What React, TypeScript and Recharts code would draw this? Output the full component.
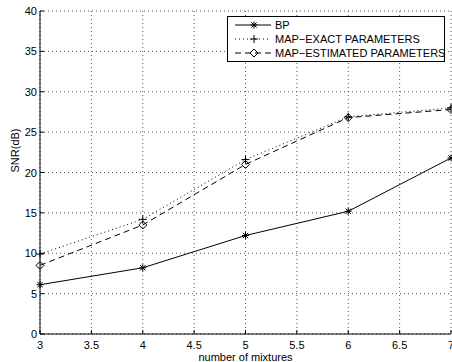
import { LineChart, Line, XAxis, YAxis, CartesianGrid, Legend } from 'recharts';

const mixtures = [3, 4, 5, 6, 7];
const bp = [6.1, 8.2, 12.2, 15.2, 21.8];
const mapExact = [9.9, 14.2, 21.6, 26.9, 28.0];
const mapEstimated = [8.5, 13.5, 21.0, 26.8, 27.8];
const xTicks = [3, 3.5, 4, 4.5, 5, 5.5, 6, 6.5, 7];
const yTicks = [0, 5, 10, 15, 20, 25, 30, 35, 40];

const data = mixtures.map((m, i) => ({
  m,
  bp: bp[i],
  exact: mapExact[i],
  est: mapEstimated[i],
}));

const FONT = '"Liberation Sans", Arial, Helvetica, sans-serif';
const TOP = 11;
const BOTTOM = 334;
const LEFT = 40;
const RIGHT = 451;
const TICK = 4;

const Asterisk = ({ cx, cy, r = 3.5 }: any) => (
  <g stroke="#000" strokeWidth={1}>
    <line x1={cx - r} y1={cy} x2={cx + r} y2={cy} />
    <line x1={cx} y1={cy - r} x2={cx} y2={cy + r} />
    <line x1={cx - r * 0.75} y1={cy - r * 0.75} x2={cx + r * 0.75} y2={cy + r * 0.75} />
    <line x1={cx - r * 0.75} y1={cy + r * 0.75} x2={cx + r * 0.75} y2={cy - r * 0.75} />
  </g>
);

const Plus = ({ cx, cy, r = 4 }: any) => (
  <g stroke="#000" strokeWidth={1}>
    <line x1={cx - r} y1={cy} x2={cx + r} y2={cy} />
    <line x1={cx} y1={cy - r} x2={cx} y2={cy + r} />
  </g>
);

const Diamond = ({ cx, cy, r = 4 }: any) => (
  <polygon
    points={`${cx},${cy - r} ${cx + r},${cy} ${cx},${cy + r} ${cx - r},${cy}`}
    fill="none"
    stroke="#000"
    strokeWidth={1}
  />
);

const BottomTick = ({ x, payload }: any) => (
  <g>
    <line x1={x} x2={x} y1={BOTTOM} y2={BOTTOM - TICK} stroke="#000" />
    <text x={x} y={349} textAnchor="middle" fontSize={11} fontFamily={FONT} fill="#000">
      {payload.value}
    </text>
  </g>
);

const TopTick = ({ x }: any) => (
  <line x1={x} x2={x} y1={TOP} y2={TOP + TICK} stroke="#000" />
);

const LeftTick = ({ y, payload }: any) => (
  <g>
    <line x1={LEFT} x2={LEFT + TICK} y1={y} y2={y} stroke="#000" />
    <text x={37} y={y + 4} textAnchor="end" fontSize={11} fontFamily={FONT} fill="#000">
      {payload.value}
    </text>
  </g>
);

const RightTick = ({ y }: any) => (
  <line x1={RIGHT - TICK} x2={RIGHT} y1={y} y2={y} stroke="#000" />
);

const legendItems = [
  { name: 'BP', dash: undefined, Marker: Asterisk },
  { name: 'MAP\u2212EXACT PARAMETERS', dash: '1 3', Marker: Plus },
  { name: 'MAP\u2212ESTIMATED PARAMETERS', dash: '6 4', Marker: Diamond },
];

const LegendBox = () => (
  <div
    style={{
      width: 216,
      height: 43,
      border: '1px solid #000',
      background: '#fff',
      fontFamily: FONT,
      fontSize: 11,
      color: '#000',
      paddingTop: 1,
      boxSizing: 'content-box',
      whiteSpace: 'nowrap',
    }}
  >
    {legendItems.map((it) => (
      <div key={it.name} style={{ display: 'flex', alignItems: 'center', height: 14 }}>
        <svg width={47} height={14} style={{ display: 'block', flexShrink: 0 }}>
          <line x1={7} x2={43} y1={7} y2={7} stroke="#000" strokeDasharray={it.dash} />
          <it.Marker cx={26} cy={7} />
        </svg>
        <span style={{ lineHeight: '14px' }}>{it.name}</span>
      </div>
    ))}
  </div>
);

export default function App() {
  return (
    <div style={{ position: 'absolute', left: 0, top: 0, background: '#fff' }}>
      <LineChart width={452} height={362} data={data} margin={{ top: TOP, right: 1, left: 0, bottom: 0 }}>
        <CartesianGrid
          stroke="#555"
          strokeDasharray="1 3"
          horizontalValues={yTicks}
          verticalValues={xTicks}
        />
        <XAxis
          dataKey="m"
          type="number"
          domain={[3, 7]}
          ticks={xTicks}
          interval={0}
          height={28}
          axisLine={{ stroke: '#000' }}
          tickLine={false}
          tick={<BottomTick />}
          label={{ value: 'number of mixtures', position: 'insideBottom', offset: 1, fontSize: 11, fontFamily: FONT, fill: '#000' }}
        />
        <XAxis
          xAxisId="top"
          orientation="top"
          dataKey="m"
          type="number"
          domain={[3, 7]}
          ticks={xTicks}
          interval={0}
          height={0}
          axisLine={{ stroke: '#000' }}
          tickLine={false}
          tick={<TopTick />}
        />
        <YAxis
          type="number"
          domain={[0, 40]}
          ticks={yTicks}
          interval={0}
          width={40}
          axisLine={{ stroke: '#000' }}
          tickLine={false}
          tick={<LeftTick />}
          label={{ value: 'SNR(dB)', angle: -90, position: 'insideLeft', offset: 15, fontSize: 11, fontFamily: FONT, fill: '#000' }}
        />
        <YAxis
          yAxisId="right"
          orientation="right"
          type="number"
          domain={[0, 40]}
          ticks={yTicks}
          interval={0}
          width={0}
          axisLine={{ stroke: '#000' }}
          tickLine={false}
          tick={<RightTick />}
        />
        <Legend
          layout="vertical"
          align="center"
          verticalAlign="middle"
          wrapperStyle={{ top: 16, left: 227, width: 218 }}
          content={() => <LegendBox />}
        />
        <Line
          dataKey="bp"
          name="BP"
          stroke="#000"
          strokeWidth={1}
          isAnimationActive={false}
          dot={(p: any) => <Asterisk key={`a${p.index}`} cx={p.cx} cy={p.cy} />}
        />
        <Line
          dataKey="exact"
          name="MAP-EXACT PARAMETERS"
          stroke="#000"
          strokeWidth={1}
          strokeDasharray="1 3"
          isAnimationActive={false}
          dot={(p: any) => <Plus key={`p${p.index}`} cx={p.cx} cy={p.cy} />}
        />
        <Line
          dataKey="est"
          name="MAP-ESTIMATED PARAMETERS"
          stroke="#000"
          strokeWidth={1}
          strokeDasharray="6 4"
          isAnimationActive={false}
          dot={(p: any) => <Diamond key={`d${p.index}`} cx={p.cx} cy={p.cy} />}
        />
      </LineChart>
    </div>
  );
}
